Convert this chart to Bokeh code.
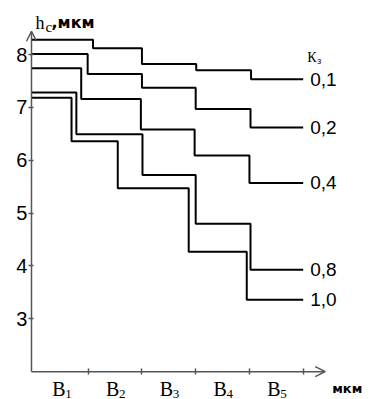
from bokeh.plotting import figure
from bokeh.models import Label, Arrow, OpenHead, FixedTicker
from bokeh.embed import file_html
from bokeh.resources import INLINE

# ---------------- data ----------------
x_base = ["B", "B", "B", "B", "B"]
x_subs = ["1", "2", "3", "4", "5"]
x_centers = [0.5, 1.5, 2.5, 3.5, 4.5]
x_ticks = [1, 2, 3, 4, 5]
y_ticks = [3, 4, 5, 6, 7, 8]

kz_labels = ["0,1", "0,2", "0,4", "0,8", "1,0"]
steps_01 = [1.09, 2.00, 3.01, 4.03]
hc_01 = [8.28, 8.12, 7.82, 7.70, 7.53]
steps_02 = [0.99, 2.00, 3.00, 4.02]
hc_02 = [8.01, 7.63, 7.37, 6.97, 6.62]
steps_04 = [0.87, 1.98, 2.98, 4.00]
hc_04 = [7.74, 7.16, 6.58, 6.09, 5.57]
steps_08 = [0.78, 2.01, 3.00, 4.02]
hc_08 = [7.28, 6.49, 5.72, 4.80, 3.93]
steps_10 = [0.69, 1.55, 2.87, 3.95]
hc_10 = [7.18, 6.36, 5.47, 4.27, 3.36]

all_steps = [steps_01, steps_02, steps_04, steps_08, steps_10]
all_hc = [hc_01, hc_02, hc_04, hc_08, hc_10]

x_origin = -0.055
x_last = 5.0
x_arrow = 5.41
y_origin = 2.0
y_arrow = 8.44

AX = "#555555"

p = figure(width=371, height=399, x_range=(-0.6316, 6.271), y_range=(1.4733, 9.0216),
           output_backend="svg", toolbar_location=None, title=None,
           min_border=0)
p.outline_line_color = None
p.xgrid.visible = False
p.ygrid.visible = False
p.background_fill_color = "white"
p.border_fill_color = "white"

# y axis
p.yaxis.fixed_location = x_origin
p.yaxis.ticker = FixedTicker(ticks=y_ticks)
p.yaxis.axis_line_color = None
p.yaxis.minor_tick_line_color = None
p.yaxis.major_tick_line_color = AX
p.yaxis.major_tick_line_width = 1.5
p.yaxis.major_tick_in = 2
p.yaxis.major_tick_out = 3
p.yaxis.major_label_standoff = 1
p.yaxis.major_label_text_font = "Liberation Sans"
p.yaxis.major_label_text_font_size = "20px"
p.yaxis.major_label_text_color = "black"

# x axis: only tick marks between the B intervals
p.xaxis.fixed_location = y_origin
p.xaxis.ticker = FixedTicker(ticks=[], minor_ticks=x_ticks)
p.xaxis.axis_line_color = None
p.xaxis.major_tick_line_color = None
p.xaxis.minor_tick_line_color = AX
p.xaxis.minor_tick_line_width = 1.5
p.xaxis.minor_tick_in = 3
p.xaxis.minor_tick_out = 3

# axis lines with arrows
p.add_layout(Arrow(end=OpenHead(size=10, line_color=AX, line_width=1.5),
                   x_start=x_origin, y_start=y_origin, x_end=x_arrow, y_end=y_origin,
                   line_color=AX, line_width=1.5))
p.add_layout(Arrow(end=OpenHead(size=10, line_color=AX, line_width=1.5),
                   x_start=x_origin, y_start=y_origin, x_end=x_origin, y_end=y_arrow,
                   line_color=AX, line_width=1.5))

# step curves
for st, hc, lab in zip(all_steps, all_hc, kz_labels):
    xs = [x_origin] + st + [x_last]
    ys = hc + [hc[-1]]
    p.step(x=xs, y=ys, mode="after", line_color="black", line_width=2)
    p.add_layout(Label(x=x_last, y=hc[-1], x_offset=7, text=lab, text_baseline="middle",
                       text_font="Liberation Sans", text_font_size="19px", text_color="black"))

# K_з label
p.add_layout(Label(x=x_last, y=7.938, x_offset=4, text="К", text_baseline="alphabetic",
                   text_font="Liberation Serif", text_font_size="14px", text_color="black"))
p.add_layout(Label(x=x_last, y=7.887, x_offset=14, text="з", text_baseline="alphabetic",
                   text_font="Liberation Serif", text_font_size="10px", text_color="black"))

# y-axis title h_c, мкм
p.add_layout(Label(x=x_origin, y=8.592, x_offset=4, text="h", text_baseline="alphabetic",
                   text_font="Liberation Serif", text_font_size="18px", text_color="black"))
p.add_layout(Label(x=x_origin, y=8.511, x_offset=14, text="c", text_baseline="alphabetic",
                   text_font="Liberation Serif", text_font_size="15px", text_color="black"))
p.add_layout(Label(x=x_origin, y=8.596, x_offset=20, text=",мкм", text_baseline="alphabetic",
                   text_font="DejaVu Sans", text_font_style="bold", text_font_size="16px",
                   text_color="black"))

# x-axis unit
p.add_layout(Label(x=x_arrow, y=1.681, x_offset=7, text="мкм", text_baseline="alphabetic",
                   text_font="DejaVu Sans", text_font_style="bold", text_font_size="13px",
                   text_color="black"))

# category labels B with subscripts
for xc, b, s in zip(x_centers, x_base, x_subs):
    p.add_layout(Label(x=xc, y=1.663, x_offset=-2.5, text=b, text_align="center",
                       text_baseline="alphabetic", text_font="Liberation Serif",
                       text_font_size="20px", text_color="black"))
    p.add_layout(Label(x=xc, y=1.575, x_offset=4, text=s, text_align="left",
                       text_baseline="alphabetic", text_font="Liberation Serif",
                       text_font_size="13px", text_color="black"))

open("out.html", "w").write(file_html(p, INLINE))
